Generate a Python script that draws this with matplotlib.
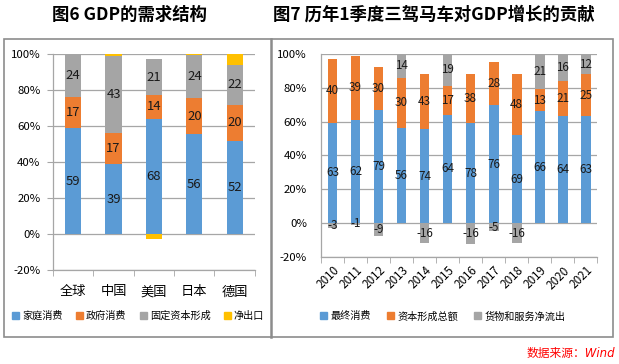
import numpy as np
import matplotlib
matplotlib.use('Agg')
import matplotlib.pyplot as plt
from matplotlib.patches import Rectangle, Patch
from matplotlib.lines import Line2D

plt.rcParams['font.family'] = ['Noto Sans CJK SC', 'DejaVu Sans']
plt.rcParams['axes.unicode_minus'] = False

# figure 6: GDP demand structure (%)
countries = ['全球', '中国', '美国', '日本', '德国']
household = [59, 39, 68, 56, 52]
government = [17, 17, 14, 20, 20]
fixed_cap = [24, 43, 21, 24, 22]
net_export = [0, 1, -3, 0.6, 6]
names6 = ['家庭消费', '政府消费', '固定资本形成', '净出口']

# figure 7: Q1 contributions to GDP growth (%)
years = ['2010', '2011', '2012', '2013', '2014', '2015', '2016', '2017',
         '2018', '2019', '2020', '2021']
final_cons = [63, 62, 79, 56, 74, 64, 78, 76, 69, 66, 64, 63]
capital = [40, 39, 30, 30, 43, 17, 38, 28, 48, 13, 21, 25]
net_out = [-3, -1, -9, 14, -16, 19, -16, -5, -16, 21, 16, 12]
names7 = ['最终消费', '资本形成总额', '货物和服务净流出']

colors = ['#5B9BD5', '#ED7D31', '#A5A5A5', '#FFC000']
gridc = '#a6a6a6'


def stacked100(ax, cats, series, width, labelled, fs):
    # Excel style 100% stacked: share of sum of absolute values
    arr = np.array(series, dtype=float)
    tot = np.abs(arr).sum(axis=0)
    pct = arr / tot * 100
    x = np.arange(len(cats))
    pos = np.zeros(len(cats))
    neg = np.zeros(len(cats))
    for i, row in enumerate(pct):
        base = np.where(row >= 0, pos, neg)
        ax.bar(x, row, width, bottom=base, color=colors[i], zorder=3)
        if labelled[i]:
            for j in range(len(cats)):
                if arr[i, j] != 0:
                    ax.text(x[j], base[j] + row[j] / 2, '%d' % round(arr[i, j]),
                            ha='center', va='center', fontsize=fs,
                            color='#1a1a1a', zorder=4)
        pos = np.where(row >= 0, pos + row, pos)
        neg = np.where(row < 0, neg + row, neg)
    ax.set_ylim(-20, 100)
    ax.set_yticks(np.arange(-20, 101, 20))
    ax.set_yticklabels(['%d%%' % v for v in range(-20, 101, 20)], fontsize=8.2)
    ax.set_xlim(-0.5, len(cats) - 0.5)
    ax.yaxis.grid(True, color=gridc, lw=0.9, zorder=0)
    ax.set_axisbelow(True)
    for s in ['top', 'right']:
        ax.spines[s].set_visible(False)
    for s in ['left', 'bottom']:
        ax.spines[s].set_color(gridc)
        ax.spines[s].set_linewidth(0.9)
    ax.tick_params(axis='y', length=4, color=gridc, pad=5)
    ax.set_xticks(np.arange(len(cats) + 1) - 0.5, minor=True)
    ax.set_xticks(x)
    ax.tick_params(axis='x', which='major', length=0)
    ax.tick_params(axis='x', which='minor', length=4, color=gridc)


fig = plt.figure(figsize=(6.19, 3.64), dpi=100)

ax1 = fig.add_axes([0.0856, 0.258, 0.326, 0.593])
stacked100(ax1, countries, [household, government, fixed_cap, net_export],
           0.4, [True, True, True, False], 9.4)
ax1.set_xticklabels(countries, fontsize=9.5)
ax1.tick_params(axis='x', which='major', pad=11)
h1 = [Patch(color=c) for c in colors]
fig.legend(h1, names6, loc='center', bbox_to_anchor=(0.223, 0.133), ncol=4,
           frameon=False, fontsize=7.3, handlelength=0.7, handleheight=0.7,
           handletextpad=0.3, columnspacing=1.3)

ax2 = fig.add_axes([0.5186, 0.294, 0.446, 0.558])
stacked100(ax2, years, [final_cons, capital, net_out],
           0.43, [True, True, True], 8.4)
ax2.set_xticklabels(years, fontsize=8.4, rotation=45, ha='right', va='top',
                    rotation_mode='anchor')
ax2.tick_params(axis='x', which='major', pad=5)
ax2.tick_params(axis='y', length=0, pad=10)
h2 = [Patch(color=c) for c in colors[:3]]
fig.legend(h2, names7, loc='center', bbox_to_anchor=(0.715, 0.131), ncol=3,
           frameon=False, fontsize=7.3, handlelength=0.7, handleheight=0.7,
           handletextpad=0.3, columnspacing=1.6)

# panel frame
fig.patches.append(Rectangle((4 / 619, 1 - 337 / 364), 609 / 619, 298 / 364,
                             transform=fig.transFigure, fill=False,
                             edgecolor='#8c8c8c', lw=1.2))
fig.lines.append(Line2D([271 / 619, 271 / 619], [1 - 337 / 364, 1 - 39 / 364],
                        transform=fig.transFigure, color='#8c8c8c', lw=1.8))

fig.text(130 / 619, 1 - 15 / 364, '图6 GDP的需求结构', ha='center', va='center',
         fontsize=12.5, fontweight='bold')
fig.text(434 / 619, 1 - 15 / 364, '图7 历年1季度三驾马车对GDP增长的贡献',
         ha='center', va='center', fontsize=12.5, fontweight='bold')
fig.text(615 / 619, 1 - 353 / 364, '数据来源：Wind', ha='right', va='center',
         fontsize=8.5, color='red', style='italic',
         family=['DejaVu Sans', 'Noto Sans CJK SC'])

fig.savefig('out.png', dpi=100)
